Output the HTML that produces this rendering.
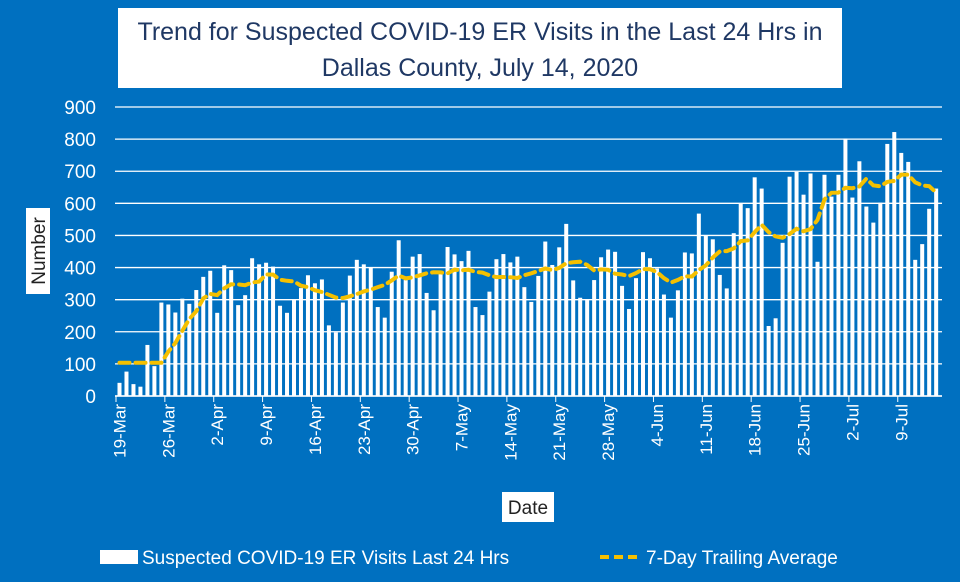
<!DOCTYPE html>
<html><head><meta charset="utf-8"><style>
body{margin:0;background:#0070C0;}
svg{display:block;font-family:"Liberation Sans",sans-serif;}
</style></head><body>
<svg width="960" height="582" viewBox="0 0 960 582">
<rect x="0" y="0" width="960" height="582" fill="#0070C0"/>
<rect x="118" y="8" width="724" height="80" fill="#fff"/>
<text x="480" y="40" text-anchor="middle" font-size="25" fill="#1f3864">Trend for Suspected COVID-19 ER Visits in the Last 24 Hrs in</text>
<text x="480" y="76" text-anchor="middle" font-size="25" fill="#1f3864">Dallas County, July 14, 2020</text>
<g id="grid"></g><g id="yticks"></g><g id="bars"></g><g id="xticks"></g>
<path id="avg" fill="none" stroke="#F5C000" stroke-width="4" stroke-dasharray="10,6" stroke-linecap="round"/>
<rect x="26" y="208" width="24" height="86" fill="#fff"/>
<text transform="translate(45,251) rotate(-90)" text-anchor="middle" font-size="19" fill="#222">Number</text>
<rect x="502" y="492" width="52" height="30" fill="#fff"/>
<text x="528" y="514" text-anchor="middle" font-size="19" fill="#222">Date</text>
<g>
<rect x="100" y="550" width="38" height="14" fill="#fff"/>
<text x="142" y="564" font-size="19" fill="#fff">Suspected COVID-19 ER Visits Last 24 Hrs</text>
<line x1="600" y1="557" x2="642" y2="557" stroke="#F5C000" stroke-width="4" stroke-dasharray="9,5"/>
<text x="646" y="564" font-size="19" fill="#fff">7-Day Trailing Average</text>
</g>
</svg>
<script>
const visits=[41,76,37,29,159,93,291,285,260,303,287,330,371,390,259,407,392,283,314,429,410,415,403,281,259,301,336,376,351,363,220,198,291,375,424,410,400,277,244,387,485,361,434,442,321,267,385,464,441,420,452,277,252,325,426,442,416,434,339,293,374,481,408,463,536,360,306,301,361,432,456,449,343,271,367,448,429,397,316,244,329,447,444,568,499,488,377,335,507,600,585,681,646,218,242,477,683,698,627,693,418,689,621,689,802,618,731,590,540,602,785,822,757,729,424,473,583,646];
const dateLabels=["19-Mar","26-Mar","2-Apr","9-Apr","16-Apr","23-Apr","30-Apr","7-May","14-May","21-May","28-May","4-Jun","11-Jun","18-Jun","25-Jun","2-Jul","9-Jul"];
const yTicks=[0,100,200,300,400,500,600,700,800,900];
const NS="http://www.w3.org/2000/svg";
const x0=119.5,dx=6.98,yBase=396,yTop=107,yMax=900;
const X=i=>x0+i*dx;
const Y=v=>yBase-(v/yMax)*(yBase-yTop);
function mk(tag,attrs,parent){const e=document.createElementNS(NS,tag);for(const k in attrs)e.setAttribute(k,attrs[k]);document.getElementById(parent).appendChild(e);return e;}
yTicks.forEach(t=>{
 const l=mk('line',{x1:115,x2:942,y1:Y(t),y2:Y(t),stroke:'#fff','stroke-width':1.3},'grid');
 
 
 const tx=mk('text',{x:96,y:Y(t)+7,'text-anchor':'end','font-size':19,fill:'#fff'},'yticks');
 tx.textContent=t;
 
 
});
visits.forEach((v,i)=>{
 const r=mk('rect',{x:X(i)-2,y:Y(v),width:4,height:yBase-Y(v),fill:'#fff'},'bars');
 
 
});
dateLabels.forEach((d,k)=>{
 const xx=X(k*7);
 const tk=mk('line',{x1:xx-3.5,x2:xx-3.5,y1:yBase,y2:yBase+6,stroke:'#fff','stroke-width':1},'xticks');
 
 
 const t=mk('text',{transform:`translate(${xx+6},404) rotate(-90)`,'text-anchor':'end','font-size':17,fill:'#fff'},'xticks');
 t.textContent=d;
 
 
});
const avg=visits.map((v,i)=>{const s=Math.max(0,i-6),e=Math.max(6,i);let sum=0;for(let j=s;j<=e;j++)sum+=visits[j];return sum/(e-s+1);});
document.getElementById('avg').setAttribute('d',avg.map((a,i)=>(i?'L':'M')+X(i).toFixed(1)+','+Y(a).toFixed(1)).join(''));
mk('line',{x1:115,x2:942,y1:yBase,y2:yBase,stroke:'#fff','stroke-width':1.5},'xticks');
</script>
</body></html>
